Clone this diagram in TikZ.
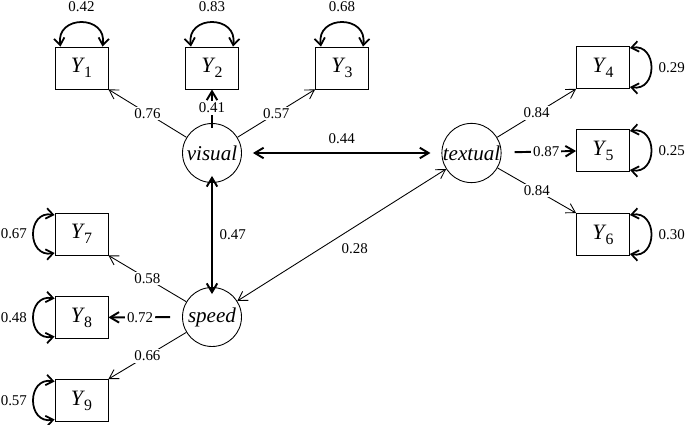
\documentclass[tikz,border=0pt]{standalone}
\usepackage{fontspec}
\setmainfont{Liberation Serif}
\usetikzlibrary{arrows.meta,positioning}

\newcommand{\obsvar}[1]{\textit{Y}\kern-0.04em\raisebox{-0.5ex}{\small #1}}

\begin{document}
\begin{tikzpicture}[
    x=0.02cm, y=-0.02cm,
    % node styles
    indicator/.style={
        rectangle, draw, line width=0.5pt,
        minimum width=1.06cm, minimum height=0.84cm,
        inner sep=0pt, font=\fontsize{12.5}{14}\selectfont
    },
    factor/.style={
        circle, draw, line width=0.5pt,
        minimum size=1.18cm, inner sep=0pt,
        font=\fontsize{12}{14}\selectfont\itshape
    },
    estimate/.style={
        fill=white, inner sep=1pt,
        font=\fontsize{8.5}{10}\selectfont
    },
    varlabel/.style={inner sep=1pt, font=\fontsize{8.5}{10}\selectfont},
    loading/.style={-{Straight Barb[length=5pt,width=6pt]}, line width=0.5pt},
    heavyloading/.style={-{Straight Barb[length=5pt,width=6pt]}, line width=1.1pt},
    covar/.style={{Straight Barb[length=5pt,width=6pt]}-{Straight Barb[length=5pt,width=6pt]}, line width=0.5pt},
    heavycovar/.style={{Straight Barb[length=5pt,width=6pt]}-{Straight Barb[length=5pt,width=6pt]}, line width=1.1pt},
    residual/.style={{Straight Barb[length=4pt,width=6pt]}-{Straight Barb[length=4pt,width=6pt]}, line width=1pt}
]
\useasboundingbox (0,0) rectangle (685,425);

% Latent factors
\node[factor] (visual) at (212,153) {visual};
\node[factor] (textual) at (471.5,153) {textual};
\node[factor] (speed) at (212,317) {speed};

% Indicators of visual
\node[indicator] (y1) at (81.5,68) {\obsvar{1}};
\node[indicator] (y2) at (212,68) {\obsvar{2}};
\node[indicator] (y3) at (342,68) {\obsvar{3}};

% Indicators of textual
\node[indicator] (y4) at (603,67.5) {\obsvar{4}};
\node[indicator] (y5) at (603,150.5) {\obsvar{5}};
\node[indicator] (y6) at (603,234.5) {\obsvar{6}};

% Indicators of speed
\node[indicator] (y7) at (81.5,234) {\obsvar{7}};
\node[indicator] (y8) at (81.5,317.5) {\obsvar{8}};
\node[indicator] (y9) at (81.5,400.5) {\obsvar{9}};

% Loadings
\draw[loading] (visual) -- (y1.south east) node[estimate, pos=0.5] {0.76};
\draw[heavyloading, shorten <=-0.1cm] (visual) -- (y2) node[estimate, pos=0.45] {0.41};
\draw[loading] (visual) -- (y3.south west) node[estimate, pos=0.5] {0.57};

\draw[loading] (textual) -- (y4.south west) node[estimate, pos=0.5] {0.84};
\draw[heavyloading, shorten <=0.26cm] (textual) -- (y5) node[estimate, pos=0.6] {0.87};
\draw[loading] (textual) -- (y6.north west) node[estimate, pos=0.5] {0.84};

\draw[loading] (speed) -- (y7.south east) node[estimate, pos=0.5] {0.58};
\draw[heavyloading, shorten <=0.24cm] (speed) -- (y8) node[estimate, pos=0.57] {0.72};
\draw[loading] (speed) -- (y9.north east) node[estimate, pos=0.5] {0.66};

% Factor covariances
\draw[heavycovar, shorten <=0.22cm, shorten >=0.22cm] (visual) -- (textual)
    node[varlabel, pos=0.5, above=0.14cm] {0.44};
\draw[heavycovar, shorten <=-0.14cm, shorten >=-0.14cm] (visual) -- (speed)
    node[varlabel, pos=0.5, right=0.1cm] {0.47};
\draw[covar] (speed) -- (textual)
    node[varlabel, pos=0.5, xshift=0.26cm, yshift=-0.28cm] {0.28};

% Residual variances (top)
\draw[residual] ([xshift=-0.42cm]y1.north) .. controls +(-5,-32) and +(5,-32) .. ([xshift=0.42cm]y1.north)
    node[varlabel, pos=0.5, above=0.16cm] {0.42};
\draw[residual] ([xshift=-0.42cm]y2.north) .. controls +(-5,-32) and +(5,-32) .. ([xshift=0.42cm]y2.north)
    node[varlabel, pos=0.5, above=0.16cm] {0.83};
\draw[residual] ([xshift=-0.42cm]y3.north) .. controls +(-5,-32) and +(5,-32) .. ([xshift=0.42cm]y3.north)
    node[varlabel, pos=0.5, above=0.16cm] {0.68};

% Residual variances (right)
\draw[residual] ([yshift=0.39cm]y4.east) .. controls +(28,-5) and +(28,5) .. ([yshift=-0.39cm]y4.east)
    node[varlabel, pos=0.5, right=0.1cm] {0.29};
\draw[residual] ([yshift=0.39cm]y5.east) .. controls +(28,-5) and +(28,5) .. ([yshift=-0.39cm]y5.east)
    node[varlabel, pos=0.5, right=0.1cm] {0.25};
\draw[residual] ([yshift=0.39cm]y6.east) .. controls +(28,-5) and +(28,5) .. ([yshift=-0.39cm]y6.east)
    node[varlabel, pos=0.5, right=0.1cm] {0.30};

% Residual variances (left)
\draw[residual] ([yshift=0.38cm]y7.west) .. controls +(-28,-5) and +(-28,5) .. ([yshift=-0.38cm]y7.west)
    node[varlabel, pos=0.5, left=0.08cm] {0.67};
\draw[residual] ([yshift=0.38cm]y8.west) .. controls +(-28,-5) and +(-28,5) .. ([yshift=-0.38cm]y8.west)
    node[varlabel, pos=0.5, left=0.08cm] {0.48};
\draw[residual] ([yshift=0.38cm]y9.west) .. controls +(-28,-5) and +(-28,5) .. ([yshift=-0.38cm]y9.west)
    node[varlabel, pos=0.5, left=0.08cm] {0.57};

\end{tikzpicture}
\end{document}
